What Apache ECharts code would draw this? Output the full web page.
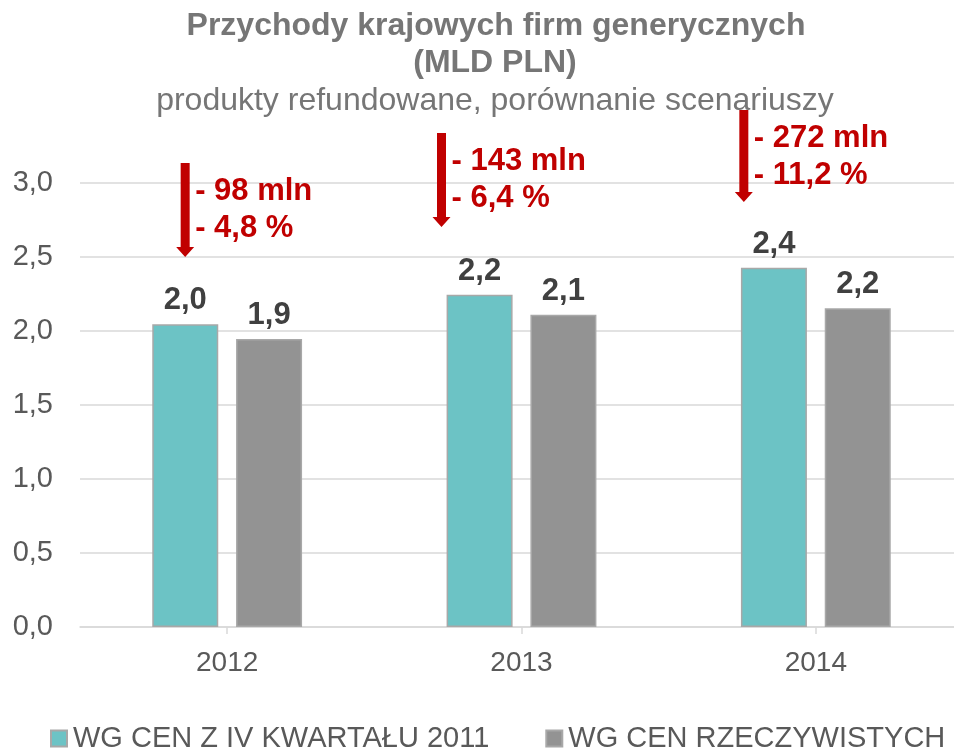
<!DOCTYPE html>
<html>
<head>
<meta charset="utf-8">
<script src="https://cdn.jsdelivr.net/npm/echarts@6/dist/echarts.min.js"></script>
<style>html,body{margin:0;padding:0;background:#fff;}#c{width:954px;height:751px;}</style>
</head>
<body>
<div id="c"></div>
<script>
var categories = ['2012', '2013', '2014'];
var seriesNames = ['WG CEN Z IV KWARTAŁU 2011', 'WG CEN RZECZYWISTYCH'];
var valuesBase = [2.045, 2.245, 2.428];
var valuesActual = [1.946, 2.11, 2.153];
var yTicks = { min: 0, max: 3, interval: 0.5 };
var titleLines = ['Przychody krajowych firm generycznych', '(MLD PLN)', 'produkty refundowane, porównanie scenariuszy'];
var diffLabels = ['- 98 mln', '- 143 mln', '- 272 mln'];
var pctLabels = ['- 4,8 %', '- 6,4 %', '- 11,2 %'];
// arrow start / end values (in chart value units)
var arrowTop = [3.135, 3.338, 3.493];
var arrowTip = [2.50, 2.703, 2.872];
// layout: horizontal pixel offsets of arrows from category center
var arrowOffsets = [-42, -80, -72];

var FONT = '"Liberation Sans", Arial, sans-serif';
function fmt(v) { return (Math.round(v * 10) / 10).toFixed(1).replace('.', ','); }

var arrowData = categories.map(function (c, i) { return [i, arrowTop[i], arrowTip[i]]; });

var chart = echarts.init(document.getElementById('c'), null, { renderer: 'canvas' });
chart.setOption({
  animation: false,
  backgroundColor: '#ffffff',
  title: [
    { text: titleLines[0], left: 496, textAlign: 'center', top: 8, padding: 0,
      textStyle: { fontFamily: FONT, fontSize: 32, fontWeight: 'bold', color: '#767676', lineHeight: 36 } },
    { text: titleLines[1], left: 495, textAlign: 'center', top: 45, padding: 0,
      textStyle: { fontFamily: FONT, fontSize: 32, fontWeight: 'bold', color: '#767676', lineHeight: 36 } },
    { text: titleLines[2], left: 495, textAlign: 'center', top: 83, padding: 0,
      textStyle: { fontFamily: FONT, fontSize: 32, fontWeight: 'normal', color: '#767676', lineHeight: 36 } }
  ],
  legend: {
    data: seriesNames,
    left: 50,
    top: 724,
    width: 1100,
    padding: 0,
    itemWidth: 16,
    itemHeight: 16,
    itemGap: 56,
    icon: 'rect',
    textStyle: { fontFamily: FONT, fontSize: 29, color: '#595959', padding: [0, 0, 0, 1] }
  },
  grid: { left: 80, right: -9, top: 183, bottom: 124, outerBoundsMode: 'none' },
  xAxis: {
    type: 'category',
    data: categories,
    axisLine: { lineStyle: { color: '#d9d9d9', width: 1.5 } },
    axisTick: { show: true, alignWithLabel: true, length: 7, lineStyle: { color: '#d9d9d9', width: 1.5 } },
    axisLabel: { fontFamily: FONT, fontSize: 28, color: '#595959', margin: 22 }
  },
  yAxis: {
    type: 'value',
    min: yTicks.min, max: yTicks.max, interval: yTicks.interval,
    axisLine: { show: false },
    axisTick: { show: false },
    axisLabel: { fontFamily: FONT, fontSize: 29, color: '#595959', margin: 27, formatter: function (v) { return v.toFixed(1).replace('.', ','); } },
    splitLine: { lineStyle: { color: '#d9d9d9', width: 1.5 } }
  },
  series: [
    {
      name: seriesNames[0], type: 'bar', data: valuesBase,
      barWidth: 66, barGap: '27%',
      itemStyle: { color: '#6cc3c5', borderColor: '#a8a8a8', borderWidth: 1.5 },
      label: { show: true, position: 'top', distance: 8, formatter: function (p) { return fmt(p.value); },
        fontFamily: FONT, fontSize: 31, fontWeight: 'bold', color: '#404040' }
    },
    {
      name: seriesNames[1], type: 'bar', data: valuesActual,
      barWidth: 66,
      itemStyle: { color: '#939393', borderColor: '#a8a8a8', borderWidth: 1.5 },
      label: { show: true, position: 'top', distance: 8, formatter: function (p) { return fmt(p.value); },
        fontFamily: FONT, fontSize: 31, fontWeight: 'bold', color: '#404040' }
    },
    {
      name: 'arrows', type: 'custom', clip: false, silent: true,
      data: arrowData,
      encode: { x: 0, y: [1, 2] },
      renderItem: function (params, api) {
        var i = api.value(0);
        var pTop = api.coord([i, api.value(1)]);
        var pTip = api.coord([i, api.value(2)]);
        var x = pTop[0] + arrowOffsets[i];
        var top = pTop[1], tip = pTip[1];
        var hw = 4.5, hh = 9, hl = 10;
        return {
          type: 'group',
          children: [
            { type: 'polygon', shape: { points: [[x - hw, top], [x + hw, top], [x + hw, tip - hl], [x + hh, tip - hl], [x, tip], [x - hh, tip - hl], [x - hw, tip - hl]] },
              style: { fill: '#c00000' } },
            { type: 'text', style: { x: x + 10, y: top + 28, text: diffLabels[i], fill: '#c00000', fontFamily: FONT, fontSize: 31, fontWeight: 'bold', align: 'left', verticalAlign: 'middle' } },
            { type: 'text', style: { x: x + 10, y: top + 65, text: pctLabels[i], fill: '#c00000', fontFamily: FONT, fontSize: 31, fontWeight: 'bold', align: 'left', verticalAlign: 'middle' } }
          ]
        };
      }
    }
  ]
});
</script>
</body>
</html>
